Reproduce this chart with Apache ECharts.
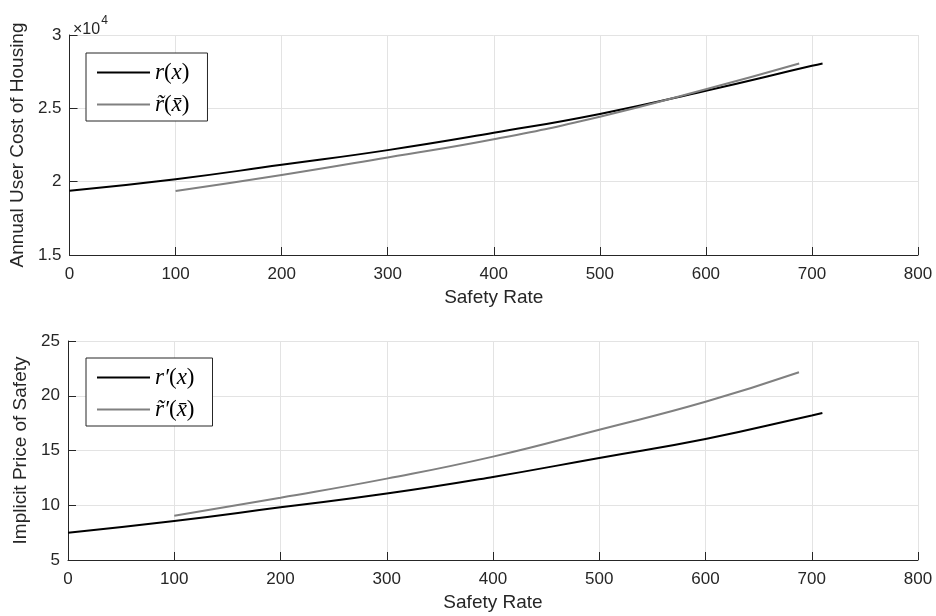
<!DOCTYPE html>
<html>
<head>
<meta charset="utf-8">
<script src="https://cdn.jsdelivr.net/npm/echarts@6/dist/echarts.min.js"></script>
<style>
  html, body { margin: 0; padding: 0; background: #fff; }
  #chart { width: 936px; height: 616px; }
</style>
</head>
<body>
<div id="chart"></div>
<script>
// safety rate positions of the sampled points
const xBlack = [0, 100, 200, 300, 400, 500, 600, 700, 710];
const xGray = [100, 200, 300, 400, 500, 600, 688];
// annual user cost of housing
const costBlack = [19380, 20170, 21150, 22150, 23330, 24620, 26200, 27900, 28060];
const costGray = [19360, 20450, 21650, 22890, 24430, 26300, 28060];
// implicit price of safety
const priceBlack = [7.49, 8.56, 9.81, 11.07, 12.59, 14.32, 16.05, 18.2, 18.42];
const priceGray = [9.05, 10.69, 12.43, 14.44, 16.9, 19.45, 22.14];

const axisColor = '#262626';
const gridColor = '#e3e3e3';
const sans = 'Liberation Sans, Arial, Helvetica, sans-serif';
const serif = 'Liberation Serif, Times New Roman, serif';

function pairs(xs, ys) {
  return xs.map((x, i) => [x, ys[i]]);
}

function xAxisFor(idx) {
  return {
    gridIndex: idx, type: 'value', min: 0, max: 800, interval: 100,
    name: 'Safety Rate', nameLocation: 'middle', nameGap: 33,
    nameTextStyle: { fontFamily: sans, fontSize: 19, color: axisColor },
    axisLine: { show: true, lineStyle: { color: axisColor, width: 1 } },
    axisTick: { show: true, inside: true, length: 8, lineStyle: { color: axisColor } },
    axisLabel: { fontFamily: sans, fontSize: 17, color: axisColor, margin: 11 },
    splitLine: { show: true, lineStyle: { color: gridColor, width: 1 } }
  };
}

function yAxisFor(idx, min, max, interval, name, gap, fmt) {
  return {
    gridIndex: idx, type: 'value', min: min, max: max, interval: interval,
    name: name, nameLocation: 'middle', nameGap: gap,
    nameTextStyle: { fontFamily: sans, fontSize: 19, color: axisColor },
    axisLine: { show: true, lineStyle: { color: axisColor, width: 1 } },
    axisTick: { show: true, inside: true, length: 8, lineStyle: { color: axisColor } },
    axisLabel: { fontFamily: sans, fontSize: 17, color: axisColor, margin: 8, formatter: fmt },
    splitLine: { show: true, lineStyle: { color: gridColor, width: 1 } }
  };
}

const rich = {
  i: { fontFamily: serif, fontStyle: 'italic', fontSize: 23, color: '#000' },
  n: { fontFamily: serif, fontSize: 23, color: '#000' }
};

function legendAt(top, names, fmt) {
  return {
    data: names, orient: 'vertical', left: 86, top: top,
    icon: 'rect', itemWidth: 53, itemHeight: 2,
    padding: [8, 18, 5, 11], itemGap: 9,
    borderColor: axisColor, borderWidth: 1, backgroundColor: '#fff',
    textStyle: { rich: rich },
    formatter: fmt
  };
}

function lineSeries(name, idx, data, color) {
  return {
    name: name, type: 'line', xAxisIndex: idx, yAxisIndex: idx,
    data: data, smooth: true, symbol: 'none',
    lineStyle: { color: color, width: 2 }, itemStyle: { color: color }
  };
}

const chart = echarts.init(document.getElementById('chart'));
chart.setOption({
  animation: false,
  backgroundColor: '#fff',
  title: {
    text: '{a|×10}{b|4}', left: 68, top: 10,
    textStyle: { fontWeight: 'normal', rich: {
      a: { fontFamily: sans, fontSize: 16, fontWeight: 'normal', color: axisColor, padding: [7, 0, 0, 0] },
      b: { fontFamily: sans, fontSize: 12, fontWeight: 'normal', color: axisColor, verticalAlign: 'top', padding: [0, 0, 7, 1] }
    } }
  },
  grid: [
    { left: 68, top: 35, width: 850, height: 220 },
    { left: 68, top: 341, width: 850, height: 219 }
  ],
  legend: [
    legendAt(53, ['r(x)', 'r~(x~)'],
      n => n === 'r(x)' ? '{i|r}{n|(}{i|x}{n|)}' : '{i|r\u0303}{n|(}{i|x\u0304}{n|)}'),
    legendAt(358, ["r'(x)", "r~'(x~)"],
      n => n === "r'(x)" ? '{i|r\u2032}{n|(}{i|x}{n|)}' : '{i|r\u0303\u2032}{n|(}{i|x\u0304}{n|)}')
  ],
  xAxis: [xAxisFor(0), xAxisFor(1)],
  yAxis: [
    yAxisFor(0, 15000, 30000, 5000, 'Annual User Cost of Housing', 36, v => String(v / 10000)),
    yAxisFor(1, 5, 25, 5, 'Implicit Price of Safety', 29, v => String(v))
  ],
  series: [
    lineSeries('r(x)', 0, pairs(xBlack, costBlack), '#000'),
    lineSeries('r~(x~)', 0, pairs(xGray, costGray), '#808080'),
    lineSeries("r'(x)", 1, pairs(xBlack, priceBlack), '#000'),
    lineSeries("r~'(x~)", 1, pairs(xGray, priceGray), '#808080')
  ]
});
</script>
</body>
</html>
